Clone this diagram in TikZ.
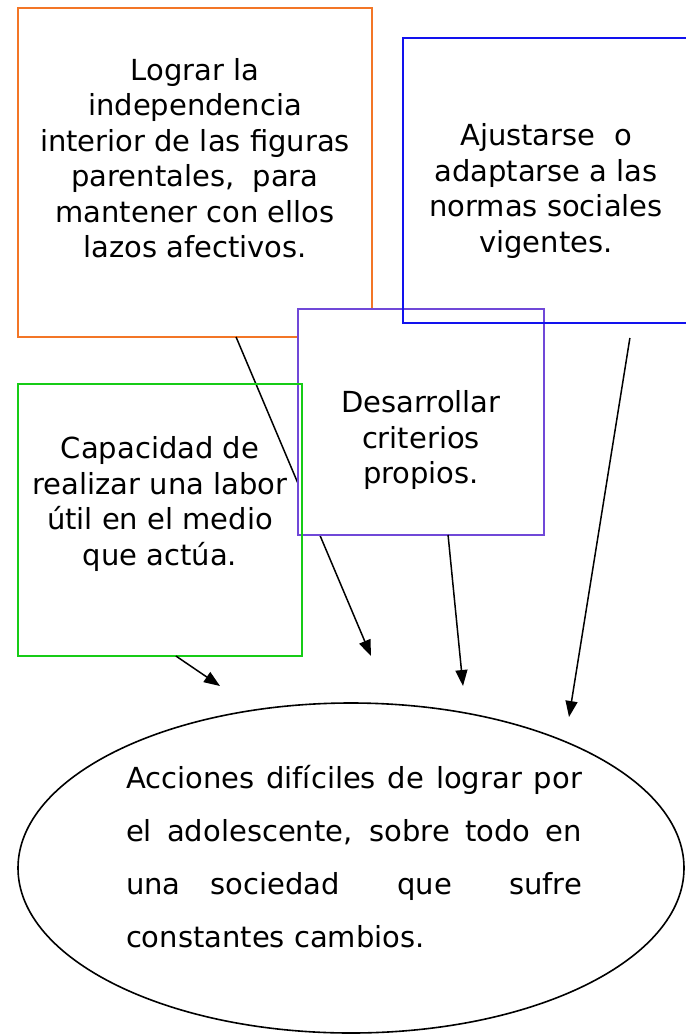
\documentclass[tikz,border=0pt]{standalone}
\usepackage{fontspec}
\setmainfont{DejaVu Sans}
\usetikzlibrary{arrows.meta,shapes.geometric,calc}
\definecolor{cOrange}{RGB}{243,118,38}
\definecolor{cBlue}{RGB}{18,18,238}
\definecolor{cPurple}{RGB}{112,72,216}
\definecolor{cGreen}{RGB}{22,204,22}
\begin{document}
\begin{tikzpicture}[x=1pt,y=-1pt,
  box/.style={draw,line width=1.8pt,inner sep=0pt,outer sep=0pt,anchor=north west},
  txt/.style={align=center,font=\fontsize{29}{35.5}\selectfont,inner sep=0pt},
  conn/.style={line width=1.5pt,-{Triangle[length=16pt,width=12pt]}}]
\useasboundingbox (0,0) rectangle (685,1035);

% orange box
\node[box,draw=cOrange,minimum width=354pt,minimum height=329pt] (orange) at (18,8) {};
\node[txt] (orangetxt) at (195,158) {Lograr la\\independencia\\interior de las figuras\\parentales,~ para\\mantener con ellos\\lazos afectivos.};

% connector behind the purple box
\coordinate (o1) at ($(orange.south west)!0.616!(orange.south east)$);
\coordinate (t1) at (371,656);
\draw[conn] (o1) -- (t1);

% purple box
\node[box,draw=cPurple,fill=white,minimum width=246pt,minimum height=226pt] (purple) at (298,309) {};
\node[txt] (purpletxt) at (421,440) {Desarrollar\\criterios\\propios.};

% green box
\node[box,draw=cGreen,minimum width=284pt,minimum height=272pt] (green) at (18,384) {};
\node[txt] (greentxt) at (160,504) {Capacidad de\\realizar una labor\\útil en el medio\\que actúa.};

% blue box
\node[box,draw=cBlue,minimum width=292pt,minimum height=285pt] (blue) at (403,38) {};
\node[txt] (bluetxt) at (546,191) {Ajustarse~ o\\adaptarse a las\\normas sociales\\vigentes.};

% other connectors
\coordinate (g1) at ($(green.south west)!0.556!(green.south east)$);
\coordinate (t2) at (220,686);
\draw[conn] (g1) -- (t2);
\coordinate (p1) at ($(purple.south west)!0.61!(purple.south east)$);
\coordinate (t3) at (463,686);
\draw[conn] (p1) -- (t3);
\coordinate (b1) at ($(blue.south west)!0.777!(blue.south east)+(0,15)$);
\coordinate (t4) at (569,717);
\draw[conn] (b1) -- (t4);

% ellipse
\node[draw,ellipse,line width=1.6pt,minimum width=666pt,minimum height=330pt,inner sep=0pt] (goal) at (351,868) {};
\node[align=left,inner sep=0pt,font=\fontsize{29}{53}\selectfont] (goaltxt) at (354,857)
 {\makebox[456pt][s]{Acciones difíciles de lograr por}\\
  \makebox[456pt][s]{el adolescente, sobre todo en}\\
  \hbox to 456pt{una\hspace{30pt}sociedad\hfill que\hfill sufre}\\
  constantes cambios.};
\end{tikzpicture}
\end{document}
